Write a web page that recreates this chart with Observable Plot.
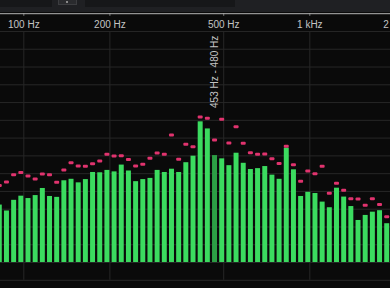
<!DOCTYPE html>
<html><head><meta charset="utf-8">
<script src="https://cdn.jsdelivr.net/npm/d3@7"></script>
<script src="https://cdn.jsdelivr.net/npm/@observablehq/plot@0.6"></script>
<style>
html,body{margin:0;padding:0;background:#0a0a0a;overflow:hidden;width:390px;height:288px}
#toolbar{position:relative;height:12px;background:#1f2023}
#toolbar div{position:absolute;top:0}
#chart svg{display:block}
</style></head><body>
<div id="toolbar">
  <div style="left:0;width:52px;height:7px;background:#161719"></div>
  <div style="left:58px;width:17px;height:4px;background:#2a2b2e;border:1px solid #3c3d40;border-top:none"></div>
  <div style="left:66px;top:1px;width:2px;height:2px;background:#8a8a8a"></div>
  <div style="left:85px;width:150px;height:7px;background:#161719"></div>
</div>
<div id="chart"></div>
<script>
// 1/12-octave band centres (Hz)
const bandCenters = [82.41, 87.31, 92.50, 98.00, 103.83, 110.00, 116.54, 123.47, 130.81, 138.59,
  146.83, 155.56, 164.81, 174.61, 185.00, 196.00, 207.65, 220.00, 233.08, 246.94,
  261.63, 277.18, 293.66, 311.13, 329.63, 349.23, 369.99, 392.00, 415.30, 440.00,
  466.16, 493.88, 523.25, 554.37, 587.33, 622.25, 659.26, 698.46, 739.99, 783.99,
  830.61, 880.00, 932.33, 987.77, 1046.50, 1108.73, 1174.66, 1244.51, 1318.51, 1396.91,
  1479.98, 1567.98, 1661.22, 1760.00, 1864.66];
// current level per band (dB)
const levels = [-64.6, -66.6, -63.0, -61.6, -62.4, -61.4, -59.0, -61.7, -62.0, -56.4,
  -55.9, -57.1, -56.0, -53.6, -53.7, -52.9, -53.4, -51.1, -53.1, -56.7,
  -56.0, -55.6, -52.9, -53.6, -52.5, -53.6, -50.3, -48.1, -36.5, -38.9,
  -47.9, -49.0, -51.3, -47.1, -50.5, -52.6, -52.3, -51.6, -54.5, -55.9,
  -45.4, -52.7, -61.7, -60.3, -60.7, -63.6, -65.5, -58.9, -61.9, -65.1,
  -69.8, -68.1, -67.0, -66.5, -70.9];
// peak-hold level per band (dB)
const peaks = [-58.2, -57.0, -54.5, -53.8, -55.0, -56.0, -54.3, -54.5, -57.1, -52.9,
  -50.5, -51.6, -51.7, -50.8, -49.9, -47.6, -48.2, -48.1, -49.4, -51.6,
  -51.0, -49.0, -47.2, -47.6, -41.1, -49.3, -44.2, -45.1, -35.0, -35.5,
  -42.8, -35.8, -43.8, -38.3, -43.9, -47.1, -47.6, -47.5, -49.1, -50.7,
  -44.9, -51.2, -56.7, -53.3, -54.2, -51.7, -60.8, -57.4, -59.8, -62.6,
  -62.7, -64.8, -62.6, -64.6, -68.7];
const floorDb = -84;
const gridDb = [-6, -12, -18, -24, -30, -36, -42, -48, -54, -60, -66, -72, -78, -84, -90];
const tickFreqs = [100, 200, 500, 1000, 2000];
const tickLabels = ["100 Hz", "200 Hz", "500 Hz", "1 kHz", "2 kHz"];
const hoverBand = 466.16;
const hoverLabel = "453 Hz - 480 Hz";

const half = Math.pow(2, 1 / 24);
const bands = bandCenters.map((f, i) => ({f, lo: f / half, hi: f * half, level: levels[i], peak: peaks[i]}));
const ticks = tickFreqs.map((f, i) => ({f, label: tickLabels[i]}));
const hover = [{f: hoverBand, label: hoverLabel, y: d3.max(peaks)}];

const chart = Plot.plot({
  width: 390, height: 276,
  marginTop: 1.2, marginBottom: 8.2, marginLeft: 0, marginRight: 0,
  style: {background: "#0a0a0a", fontFamily: "'Liberation Sans', Arial, sans-serif", fontSize: "10px"},
  x: {type: "log", domain: [82.88, 1914.6], axis: null},
  y: {domain: [-90, 0], axis: null},
  marks: [
    Plot.ruleY(gridDb, {stroke: "#272727", strokeWidth: 1}),
    Plot.ruleX(ticks, {x: "f", y1: -6, y2: -90, stroke: "#272727"}),
    Plot.ruleX(ticks, {x: "f", y1: 0, y2: -0.9, stroke: "#7a7a7a"}),
    Plot.ruleY([0], {stroke: "#b4b4b4"}),
    Plot.text(ticks, {x: "f", text: "label", frameAnchor: "top", lineAnchor: "top", dy: 7.3, fill: "#c4c4c4", fontSize: 10}),
    Plot.rect(bands, {x1: "lo", x2: "hi", y1: floorDb, y2: "level",
      fill: d => d.f === hoverBand ? "#2c9f45" : "#3bdb5f", insetLeft: 1.1, insetRight: 1.1}),
    Plot.rect(bands, {x1: "lo", x2: "hi", y1: "peak", y2: "peak",
      fill: "#e0336e", insetLeft: 1.1, insetRight: 1.1, insetTop: -1.5, insetBottom: -1.5, rx: 1}),
    Plot.text(hover, {x: "f", y: "y", text: "label", rotate: -90, textAnchor: "start", lineAnchor: "middle",
      dy: -9.4, fill: "#c4c4c4", fontSize: 10})
  ]
});
document.getElementById("chart").appendChild(chart);
</script>
</body></html>
